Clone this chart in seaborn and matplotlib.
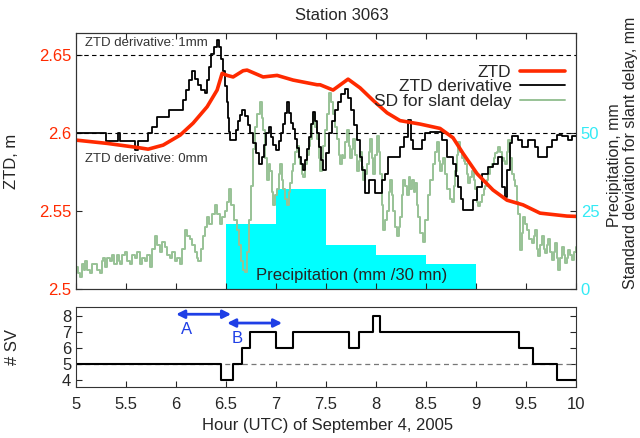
import matplotlib
matplotlib.use("Agg")
import matplotlib.pyplot as plt
from matplotlib.lines import Line2D
import seaborn as sns

# ZTD (m), smooth red curve
ztd_hour = [5.0, 5.31, 5.61, 5.72, 5.87, 6.04, 6.17, 6.31, 6.41, 6.46, 6.51, 6.57, 6.67,
            6.71, 6.87, 7.01, 7.17, 7.41, 7.44, 7.57, 7.72, 7.84, 7.97, 8.11, 8.24, 8.44,
            8.64, 8.77, 8.87, 9.01, 9.17, 9.31, 9.47, 9.64, 9.91, 10.0]
ztd_m = [2.5955, 2.5934, 2.5908, 2.5897, 2.5923, 2.5987, 2.6064, 2.6169, 2.6276, 2.6383,
         2.637, 2.636, 2.640, 2.6404, 2.636, 2.637, 2.634, 2.631, 2.631, 2.6276, 2.6346,
         2.629, 2.621, 2.613, 2.608, 2.6058, 2.603, 2.597, 2.587, 2.574, 2.5635, 2.557,
         2.554, 2.5487, 2.5468, 2.5466]

# ZTD derivative (mm), stepped
deriv_hour = [5.0, 5.30, 5.42, 5.44, 5.59, 5.62, 5.72, 5.76, 5.81, 5.93, 6.07, 6.10, 6.13,
              6.16, 6.19, 6.22, 6.25, 6.29, 6.31, 6.33, 6.35, 6.38, 6.41, 6.43, 6.45, 6.47,
              6.49, 6.51, 6.52, 6.53, 6.54, 6.58, 6.60, 6.62, 6.64, 6.66, 6.69, 6.72, 6.74,
              6.77, 6.80, 6.83, 6.86, 6.88, 6.90, 6.93, 6.95, 6.97, 7.00, 7.03, 7.05, 7.07,
              7.09, 7.11, 7.13, 7.15, 7.17, 7.19, 7.21, 7.23, 7.25, 7.27, 7.29, 7.31, 7.33,
              7.35, 7.37, 7.39, 7.41, 7.43, 7.45, 7.47, 7.50, 7.53, 7.56, 7.59, 7.62, 7.65,
              7.69, 7.72, 7.75, 7.78, 7.81, 7.84, 7.86, 7.89, 7.93, 7.99, 8.06, 8.09, 8.12,
              8.21, 8.24, 8.28, 8.32, 8.35, 8.37, 8.42, 8.46, 8.49, 8.54, 8.62, 8.66, 8.71,
              8.77, 8.80, 8.82, 8.85, 8.87, 8.94, 8.97, 9.01, 9.06, 9.12, 9.17, 9.22, 9.26,
              9.29, 9.31, 9.34, 9.36, 9.42, 9.46, 9.52, 9.59, 9.62, 9.67, 9.71, 9.76, 9.81,
              9.86, 9.89, 9.92, 9.96, 10.0]
deriv_mm = [0.0, -0.10, 0.0, -0.10, -0.22, -0.10, 0.0, 0.08, 0.21, 0.29, 0.42, 0.55, 0.68,
            0.80, 0.70, 0.62, 0.55, 0.51, 0.68, 0.85, 1.02, 1.10, 1.19, 1.10, 0.95, 0.80,
            0.60, 0.40, 0.20, 0.02, -0.09, -0.09, 0.04, 0.15, 0.23, 0.29, 0.22, 0.10, 0.0,
            -0.13, -0.26, -0.39, -0.30, -0.15, 0.0, 0.08, -0.05, -0.15, -0.22, -0.10, 0.0,
            0.12, 0.26, 0.40, 0.26, 0.13, 0.05, -0.08, -0.19, -0.30, -0.40, -0.47, -0.35,
            -0.20, -0.05, 0.12, 0.27, 0.15, 0.0, -0.18, -0.35, -0.47, -0.25, 0.0, 0.15,
            0.30, 0.40, 0.50, 0.57, 0.45, 0.30, 0.10, -0.09, -0.30, -0.47, -0.77, -0.60,
            -0.77, -0.60, -0.52, -0.30, -0.30, -0.18, -0.05, 0.17, -0.09, -0.20, -0.20,
            -0.09, 0.0, 0.02, 0.02, -0.09, -0.30, -0.39, -0.55, -0.69, -0.85, -0.99, -0.99,
            -0.86, -0.69, -0.52, -0.43, -0.39, -0.30, -0.69, -0.82, -0.47, -0.13, -0.04,
            -0.09, -0.18, -0.09, -0.18, -0.30, -0.30, -0.18, -0.09, -0.02, -0.04, -0.04,
            -0.09, -0.04, -0.04]

# SD for slant delay (mm)
sd_hour = [5.00, 5.02, 5.04, 5.06, 5.08, 5.09, 5.11, 5.14, 5.16, 5.19, 5.21, 5.24, 5.26,
           5.27, 5.29, 5.31, 5.34, 5.36, 5.38, 5.41, 5.43, 5.44, 5.46, 5.49, 5.51, 5.54,
           5.56, 5.59, 5.61, 5.64, 5.66, 5.69, 5.71, 5.74, 5.76, 5.79, 5.81, 5.84, 5.86,
           5.89, 5.91, 5.94, 5.96, 5.99, 6.01, 6.04, 6.06, 6.09, 6.11, 6.14, 6.16, 6.19,
           6.21, 6.22, 6.25, 6.27, 6.29, 6.31, 6.33, 6.34, 6.36, 6.39, 6.41, 6.44, 6.46,
           6.49, 6.51, 6.53, 6.55, 6.58, 6.61, 6.63, 6.65, 6.67, 6.69, 6.71, 6.73, 6.75,
           6.77, 6.79, 6.81, 6.84, 6.86, 6.87, 6.89, 6.91, 6.93, 6.94, 6.96, 6.97, 6.99,
           7.01, 7.03, 7.04, 7.06, 7.07, 7.09, 7.11, 7.13, 7.14, 7.16, 7.17, 7.19, 7.21,
           7.23, 7.24, 7.26, 7.27, 7.29, 7.31, 7.33, 7.34, 7.36, 7.37, 7.39, 7.41, 7.43,
           7.44, 7.46, 7.47, 7.49, 7.51, 7.53, 7.55, 7.57, 7.59, 7.61, 7.63, 7.64, 7.66,
           7.67, 7.69, 7.71, 7.73, 7.74, 7.76, 7.77, 7.79, 7.81, 7.83, 7.84, 7.86, 7.87,
           7.89, 7.91, 7.93, 7.94, 7.96, 7.97, 7.99, 8.01, 8.03, 8.04, 8.06, 8.07, 8.09,
           8.11, 8.13, 8.14, 8.16, 8.17, 8.19, 8.21, 8.23, 8.24, 8.26, 8.27, 8.29, 8.31,
           8.33, 8.34, 8.36, 8.38, 8.39, 8.41, 8.42, 8.44, 8.47, 8.49, 8.52, 8.54, 8.57,
           8.59, 8.61, 8.63, 8.64, 8.66, 8.67, 8.69, 8.71, 8.74, 8.76, 8.78, 8.79, 8.81,
           8.82, 8.84, 8.86, 8.88, 8.89, 8.91, 8.92, 8.94, 8.96, 8.98, 8.99, 9.01, 9.02,
           9.04, 9.06, 9.08, 9.09, 9.11, 9.12, 9.14, 9.16, 9.18, 9.19, 9.21, 9.22, 9.24,
           9.26, 9.28, 9.29, 9.31, 9.32, 9.34, 9.36, 9.38, 9.39, 9.41, 9.42, 9.44, 9.46,
           9.47, 9.49, 9.51, 9.53, 9.56, 9.58, 9.59, 9.61, 9.62, 9.64, 9.66, 9.68, 9.69,
           9.71, 9.72, 9.74, 9.76, 9.78, 9.79, 9.81, 9.82, 9.84, 9.86, 9.88, 9.89, 9.91,
           9.92, 9.94, 9.96, 9.98, 10.0]
sd_mm = [7, 5, 4, 8, 6, 9, 6, 5, 8, 8, 6, 5, 9, 10, 7, 10, 9, 11, 8, 11, 9, 8, 11, 12, 9,
         8, 11, 10, 12, 8, 10, 9, 11, 7, 13, 17, 14, 12, 15, 13.5, 11, 10, 12, 9, 10, 8, 13,
         19, 17, 16, 14, 12, 10, 9, 13, 17, 20, 23, 21, 21, 24, 27, 24, 21, 23, 25, 28, 32,
         27, 22, 19, 14, 9, 6, 5.5, 12, 22, 33, 45, 52, 56, 60, 55, 51, 42, 35, 40, 38, 31,
         27, 30, 32, 37, 40, 35, 32, 29, 27, 31, 34, 38, 40, 44, 46, 42, 40, 37, 36, 40, 43,
         46, 48, 53, 56, 52, 48, 42, 38, 42, 46, 51, 56, 63, 60, 56, 52, 48, 43, 40, 43, 42,
         47, 51, 46, 42, 45, 48, 43, 38, 41, 44, 39, 35, 37, 40, 44, 48, 42, 37, 43, 49, 44,
         37, 27, 19, 22, 25, 31, 35, 30, 25, 20, 17, 20, 23, 30, 35, 33, 30, 36, 32, 35, 31,
         34, 27, 23, 18, 15, 22, 30, 35, 40, 44, 47, 41, 38, 40, 42, 37, 32, 29, 28, 33, 38,
         43, 47, 44, 42, 41, 40, 37, 34, 36, 38, 35, 32, 28, 26.5, 28, 30, 32, 33, 35, 37,
         39, 40, 42, 43.5, 44, 45.6, 44, 42, 41, 40, 44, 47.7, 42, 37, 35, 33, 28, 24, 12.6,
         18, 23, 21, 19, 16, 14.7, 17, 19, 13, 10.5, 14, 17, 13, 11.5, 14, 16, 12, 9.4, 12,
         14.7, 10, 6, 10, 13.6, 11, 8.3, 10, 12.6, 11, 9.4, 12, 13.6]

# precipitation per 30 min (mm)
precip_edges = [6.5, 7.0, 7.5, 8.0, 8.5, 9.0]
precip_mm = [21, 32, 14, 11, 8]

# number of satellites
sv_hour = [5.0, 6.45, 6.57, 6.66, 6.74, 7.0, 7.17, 7.73, 7.83, 7.97, 8.04, 9.43, 9.57, 9.81, 10.0]
sv_count = [5, 4, 5, 6, 7, 6, 7, 6, 7, 8, 7, 6, 5, 4, 4]

hour_ticks = [5, 5.5, 6, 6.5, 7, 7.5, 8, 8.5, 9, 9.5, 10]
ztd_ticks = [2.5, 2.55, 2.6, 2.65]
mm_ticks = [0, 25, 50]
sv_ticks = [4, 5, 6, 7, 8]

# window arrows A and B
arrow_names = ["A", "B"]
arrow_start = [6.0, 6.51]
arrow_end = [6.55, 7.06]

red = "#ff2a00"
cyan = "#00ffff"
green = "#98c296"
blue = "#1f3fe6"

sns.set_style("ticks")
plt.rcParams["font.family"] = ["Liberation Sans", "DejaVu Sans"]
plt.rcParams["xtick.direction"] = "in"
plt.rcParams["ytick.direction"] = "in"
plt.rcParams["axes.edgecolor"] = "#333333"

fig = plt.figure(figsize=(6.4, 4.38), dpi=100)
ax = fig.add_axes([0.119, 0.340, 0.781, 0.584])
ax2 = ax.twinx()
axb = fig.add_axes([0.119, 0.1164, 0.781, 0.1826])

# right axis: precipitation bars + SD line
centers = [(a + b) / 2 for a, b in zip(precip_edges[:-1], precip_edges[1:])]
sns.histplot(x=centers, weights=precip_mm, bins=precip_edges, color=cyan, alpha=1,
             linewidth=0, ax=ax2)
sns.lineplot(x=sd_hour, y=sd_mm, color=green, lw=1.4, drawstyle="steps-post",
             errorbar=None, legend=False, ax=ax2)
ax2.set_ylim(0, 82)
ax2.set_yticks(mm_ticks)
ax2.tick_params(axis="y", labelcolor="#33eaf5", labelsize=12, length=4)
ax2.set_ylabel("")

# right-hand labels, one per line
fig.text(614 / 640, 1 - 165 / 438, "Precipitation, mm", rotation=90, fontsize=11.5,
         ha="center", va="center")
fig.text(631 / 640, 1 - 153 / 438, "Standard deviation for slant delay, mm", rotation=90,
         fontsize=11.5, ha="center", va="center")

# main axis on top
ax.set_zorder(ax2.get_zorder() + 1)
ax.patch.set_visible(False)
ax.axhline(2.65, color="k", ls=(0, (4, 3)), lw=0.8)
ax.axhline(2.6, color="k", ls=(0, (4, 3)), lw=0.8)
deriv_ztd = [2.6 + 0.05 * d for d in deriv_mm]
sns.lineplot(x=deriv_hour, y=deriv_ztd, color="k", lw=1.3, drawstyle="steps-post",
             errorbar=None, ax=ax)
sns.lineplot(x=ztd_hour, y=ztd_m, color=red, lw=2.6, errorbar=None, ax=ax)

ax.text(5.09, 2.6575, "ZTD derivative: 1mm", fontsize=9.5, color="#333333", va="center")
ax.text(5.09, 2.5835, "ZTD derivative: 0mm", fontsize=9.5, color="#333333", va="center")
ax.text(7.76, 2.509, "Precipitation (mm /30 mn)", fontsize=12, ha="center", va="center")

ax.set_xlim(5, 10)
ax.set_ylim(2.5, 2.664)
ax.set_xticks(hour_ticks)
ax.set_yticks(ztd_ticks)
ax.set_yticklabels([f"{v:g}" for v in ztd_ticks])
ax.tick_params(axis="x", labelbottom=False, top=True, length=4)
ax.tick_params(axis="y", labelcolor=red, labelsize=12, length=4)
ax.set_xlabel("")
ax.set_ylabel("ZTD, m", fontsize=12)
ax.yaxis.set_label_coords(-0.115, 0.5)

handles = [Line2D([], [], color=red, lw=2.6), Line2D([], [], color="k", lw=1.3),
           Line2D([], [], color=green, lw=1.4)]
ax.legend(handles, ["ZTD", "ZTD derivative", "SD for slant delay"], loc="upper right",
          bbox_to_anchor=(0.996, 0.91), frameon=False, markerfirst=False, fontsize=12.5,
          handlelength=2.6, labelspacing=-0.05, borderpad=0, handletextpad=0.5)

fig.text(342 / 640, 1 - 15 / 438, "Station 3063", ha="center", va="center", fontsize=12)

# bottom panel: number of satellites
axb.axhline(5, color="#777777", ls=(0, (4, 3)), lw=0.9, zorder=1)
sns.lineplot(x=sv_hour, y=sv_count, color="k", lw=1.5, drawstyle="steps-post",
             errorbar=None, ax=axb)
for name, a, b, yv, ty in zip(arrow_names, arrow_start, arrow_end, [8.1, 7.55], [7.15, 6.6]):
    axb.annotate("", xy=(b, yv), xytext=(a, yv),
                 arrowprops=dict(arrowstyle="<|-|>", color=blue, lw=2, mutation_scale=12,
                                 shrinkA=0, shrinkB=0))
    axb.text(a + 0.1, ty, name, color=blue, fontsize=12, ha="center", va="center")

axb.set_xlim(5, 10)
axb.set_ylim(3.55, 8.55)
axb.set_xticks(hour_ticks)
axb.set_xticklabels([f"{v:g}" for v in hour_ticks])
axb.set_yticks(sv_ticks)
axb.tick_params(labelsize=12, right=True, length=4)
axb.tick_params(axis="x", pad=7)
axb.set_xlabel("Hour (UTC) of September 4, 2005", fontsize=12)
axb.set_ylabel("# SV", fontsize=12)
axb.xaxis.set_label_coords(0.502, -0.39)
axb.yaxis.set_label_coords(-0.112, 0.5)

fig.savefig("out.png", dpi=100)
